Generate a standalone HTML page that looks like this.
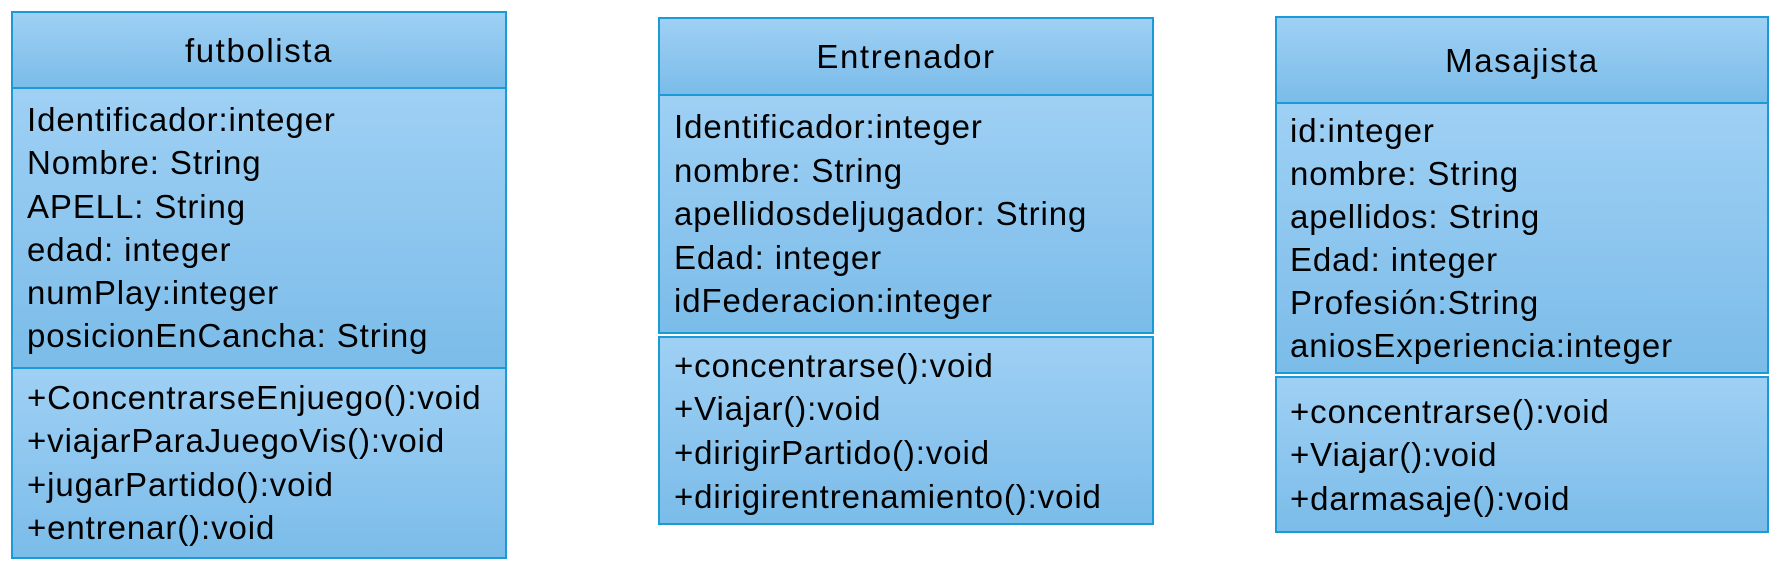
<!DOCTYPE html>
<html><head><meta charset="utf-8"><style>
body{margin:0;width:1774px;height:570px;background:#fff;position:relative;overflow:hidden;font-family:"Liberation Sans",sans-serif;color:#000}
.c{position:absolute;box-sizing:border-box;border:2px solid #1a9bd7;background:linear-gradient(#9fd0f4,#7bbce9)}
.t{position:absolute;font-size:33px;line-height:40px;white-space:nowrap;letter-spacing:0.9px}
.h{text-align:center;letter-spacing:1.6px}
</style></head><body>
<!-- futbolista -->
<div class="c" style="left:11px;top:11px;width:496px;height:78px"></div>
<div class="c" style="left:11px;top:87px;width:496px;height:282px"></div>
<div class="c" style="left:11px;top:367px;width:496px;height:192px"></div>
<div class="t h" style="left:11px;width:496px;top:31px">futbolista</div>
<div class="t" style="left:27px;top:100px">Identificador:integer</div>
<div class="t" style="left:27px;top:143px">Nombre: String</div>
<div class="t" style="left:27px;top:187px">APELL: String</div>
<div class="t" style="left:27px;top:230px">edad: integer</div>
<div class="t" style="left:27px;top:273px">numPlay:integer</div>
<div class="t" style="left:27px;top:316px">posicionEnCancha: String</div>
<div class="t" style="left:27px;top:378px">+ConcentrarseEnjuego():void</div>
<div class="t" style="left:27px;top:421px">+viajarParaJuegoVis():void</div>
<div class="t" style="left:27px;top:465px">+jugarPartido():void</div>
<div class="t" style="left:27px;top:508px">+entrenar():void</div>
<!-- Entrenador -->
<div class="c" style="left:658px;top:17px;width:496px;height:79px"></div>
<div class="c" style="left:658px;top:94px;width:496px;height:240px"></div>
<div class="c" style="left:658px;top:336px;width:496px;height:189px"></div>
<div class="t h" style="left:658px;width:496px;top:37px">Entrenador</div>
<div class="t" style="left:674px;top:107px">Identificador:integer</div>
<div class="t" style="left:674px;top:151px">nombre: String</div>
<div class="t" style="left:674px;top:194px">apellidosdeljugador: String</div>
<div class="t" style="left:674px;top:238px">Edad: integer</div>
<div class="t" style="left:674px;top:281px">idFederacion:integer</div>
<div class="t" style="left:674px;top:346px">+concentrarse():void</div>
<div class="t" style="left:674px;top:389px">+Viajar():void</div>
<div class="t" style="left:674px;top:433px">+dirigirPartido():void</div>
<div class="t" style="left:674px;top:477px">+dirigirentrenamiento():void</div>
<!-- Masajista -->
<div class="c" style="left:1275px;top:16px;width:494px;height:88px"></div>
<div class="c" style="left:1275px;top:102px;width:494px;height:272px"></div>
<div class="c" style="left:1275px;top:376px;width:494px;height:157px"></div>
<div class="t h" style="left:1275px;width:494px;top:41px">Masajista</div>
<div class="t" style="left:1290px;top:111px">id:integer</div>
<div class="t" style="left:1290px;top:154px">nombre: String</div>
<div class="t" style="left:1290px;top:197px">apellidos: String</div>
<div class="t" style="left:1290px;top:240px">Edad: integer</div>
<div class="t" style="left:1290px;top:283px">Profesión:String</div>
<div class="t" style="left:1290px;top:326px">aniosExperiencia:integer</div>
<div class="t" style="left:1290px;top:392px">+concentrarse():void</div>
<div class="t" style="left:1290px;top:435px">+Viajar():void</div>
<div class="t" style="left:1290px;top:479px">+darmasaje():void</div>
</body></html>
